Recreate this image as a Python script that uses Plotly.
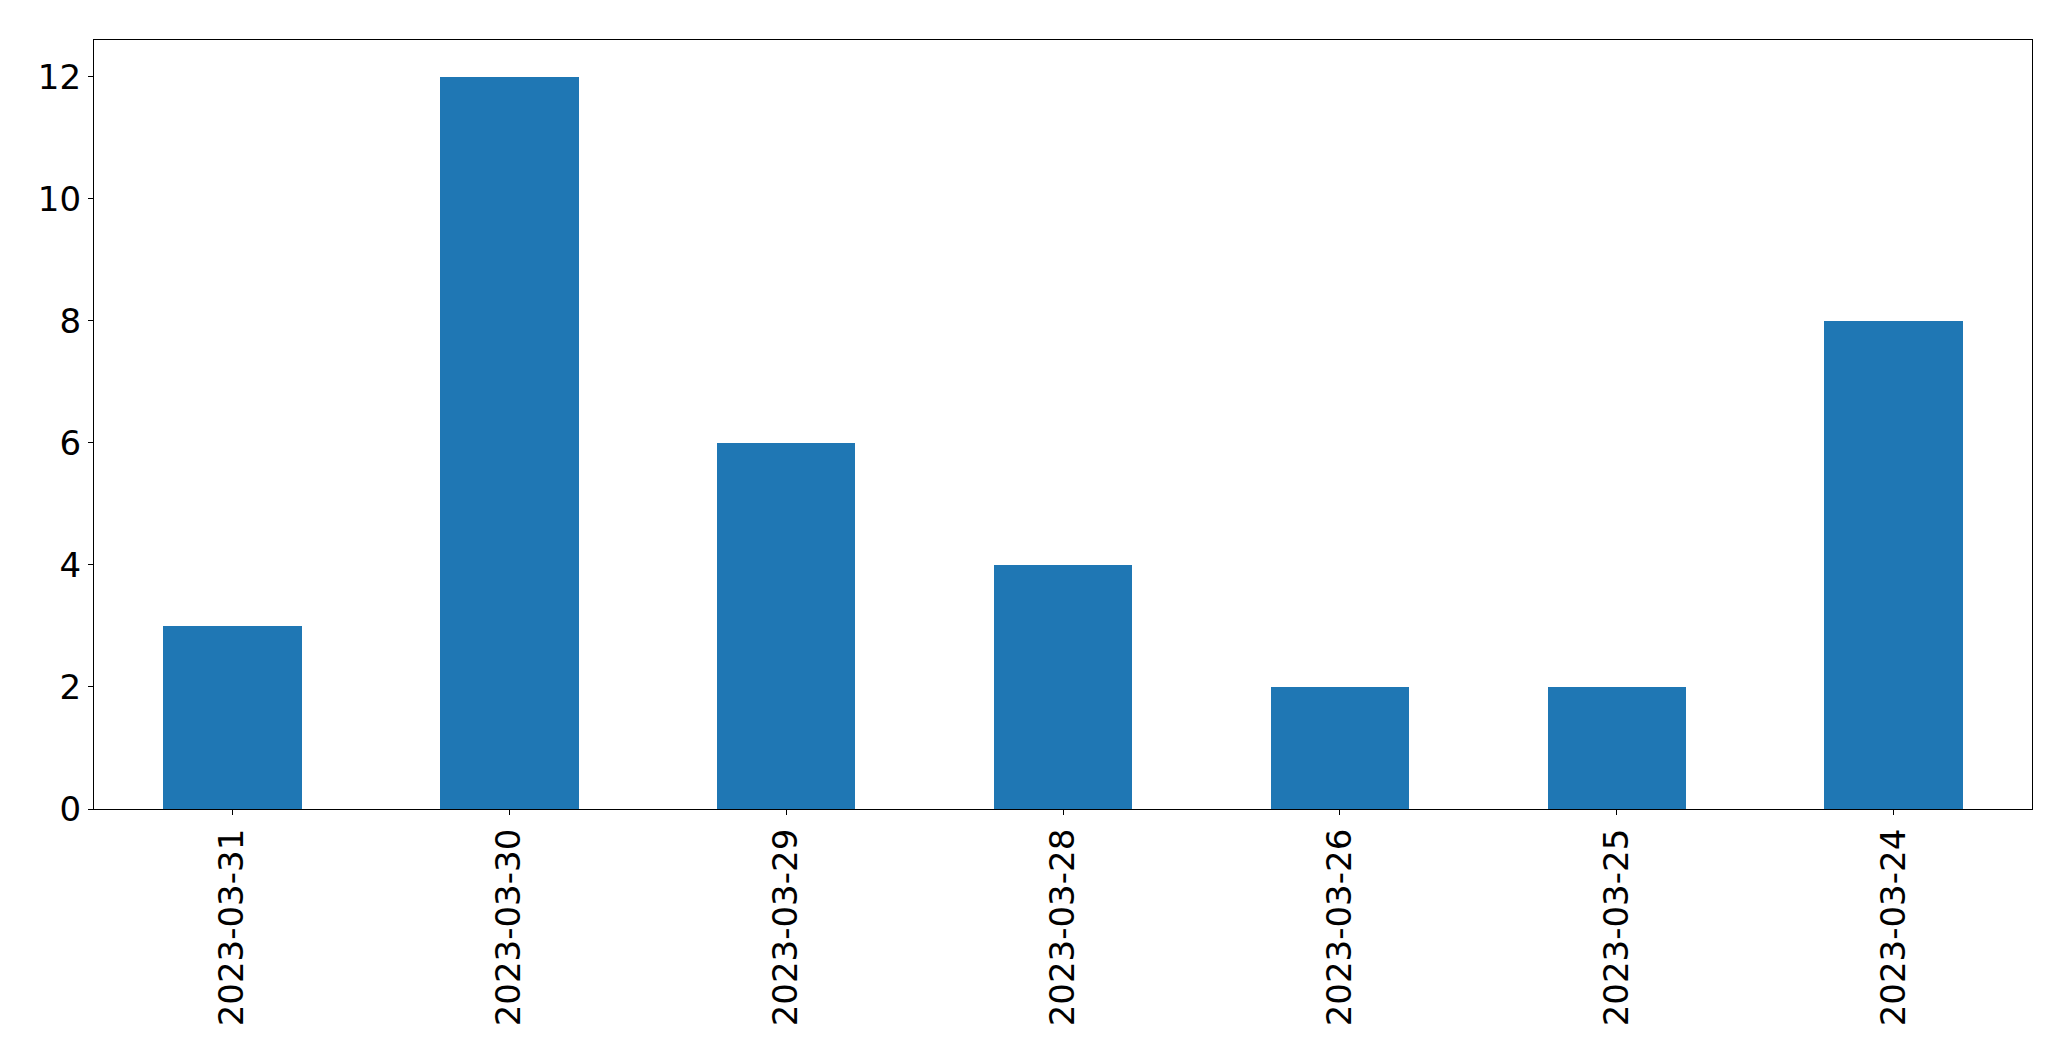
import plotly.graph_objects as go

dates = ["2023-03-31", "2023-03-30", "2023-03-29", "2023-03-28", "2023-03-26", "2023-03-25", "2023-03-24"]
counts = [3, 12, 6, 4, 2, 2, 8]
y_ticks = [0, 2, 4, 6, 8, 10, 12]

fig = go.Figure(go.Bar(x=dates, y=counts, width=0.5, marker=dict(color="#1f77b4", line=dict(width=0))))

axis_common = dict(
    showline=True, linecolor="black", linewidth=1.3, mirror=True,
    ticks="outside", ticklen=5, tickwidth=1.3, tickcolor="black",
    showgrid=False, zeroline=False,
    tickfont=dict(family="DejaVu Sans", size=34, color="black"),
)

fig.update_layout(
    width=2071, height=1061,
    margin=dict(l=86, r=47, t=32, b=260, autoexpand=False),
    paper_bgcolor="white", plot_bgcolor="white",
    showlegend=False,
    bargap=0,
    xaxis=dict(type="category", range=[-0.5, 6.5], tickangle=-90, **axis_common),
    yaxis=dict(range=[0, 12.6], tickvals=y_ticks, **axis_common),
)

fig.write_html("out.html")
